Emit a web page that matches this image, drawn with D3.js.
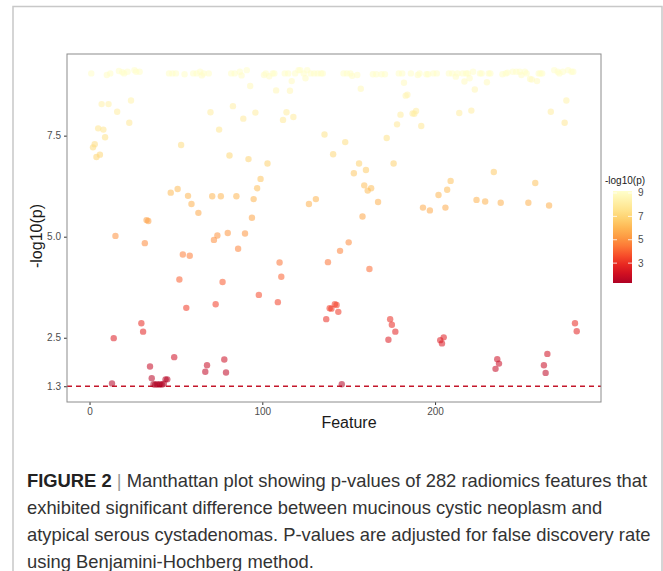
<!DOCTYPE html>
<html>
<head>
<meta charset="utf-8">
<script src="https://cdn.jsdelivr.net/npm/d3@7"></script>
<style>
  body { margin: 0; background: #fff; }
  svg { display: block; font-family: "Liberation Sans", Arial, sans-serif; }
</style>
</head>
<body>
<svg id="chart" width="663" height="571"></svg>
<script>
// feature index (x) and -log10(p) (y)
const features = [
  1, 2, 3, 4, 5, 6, 7, 8, 9, 10, 11, 12, 13, 14, 15, 16, 17, 19, 20, 22,
  23, 24, 26, 27, 29, 30, 31, 32, 33, 34, 35, 36, 37, 38, 39, 40, 41, 42, 43, 44,
  45, 46, 47, 48, 49, 50, 51, 52, 53, 54, 55, 56, 57, 58, 59, 60, 62, 63, 64, 65,
  66, 67, 68, 69, 70, 71, 72, 73, 74, 75, 76, 77, 78, 79, 80, 81, 82, 83, 84, 85,
  86, 87, 88, 89, 90, 91, 92, 93, 94, 95, 96, 97, 98, 99, 101, 102, 103, 104, 106, 107,
  108, 109, 110, 111, 112, 113, 114, 115, 116, 117, 118, 119, 121, 122, 124, 125, 126, 127, 128, 130,
  131, 132, 134, 135, 136, 137, 138, 139, 140, 141, 142, 143, 144, 145, 146, 147, 148, 149, 150, 151,
  152, 153, 155, 156, 157, 158, 159, 160, 161, 162, 163, 164, 166, 167, 169, 171, 172, 173, 174, 175,
  176, 177, 178, 179, 180, 181, 182, 183, 184, 186, 187, 188, 189, 190, 191, 192, 193, 195, 196, 197,
  199, 201, 202, 203, 204, 205, 206, 207, 208, 209, 210, 212, 213, 214, 216, 217, 218, 219, 220, 221,
  222, 223, 224, 226, 227, 229, 230, 231, 232, 234, 235, 236, 237, 238, 239, 241, 242, 245, 247, 249,
  250, 252, 253, 254, 255, 256, 258, 259, 260, 261, 262, 263, 264, 265, 266, 267, 269, 271, 272, 274,
  275, 276, 277, 279, 280, 281, 282
];
const logp = [
  9.04, 7.21, 7.29, 6.97, 7.68, 7.03, 8.28, 7.65, 7.46, 9.0, 8.28, 9.04, 1.37, 2.49, 5.02, 8.09, 9.1, 9.07, 9.04, 9.08,
  7.82, 8.37, 9.12, 9.08, 9.08, 2.86, 2.65, 4.84, 5.41, 5.39, 1.79, 1.5, 1.35, 1.34, 1.35, 1.34, 1.35, 1.34, 1.36, 1.47,
  1.47, 9.04, 6.09, 9.04, 2.02, 9.04, 6.18, 3.94, 7.27, 4.56, 9.02, 3.24, 6.01, 4.53, 5.81, 9.04, 9.04, 5.59, 9.08, 8.99,
  9.04, 1.66, 1.82, 9.04, 8.08, 6.0, 4.92, 3.33, 5.03, 7.65, 6.0, 3.88, 1.96, 1.64, 5.09, 7.01, 9.04, 8.23, 9.04, 6.0,
  4.7, 9.08, 8.99, 7.92, 5.08, 9.12, 6.92, 8.73, 5.47, 5.93, 8.07, 6.2, 3.56, 6.43, 9.0, 9.04, 6.81, 8.97, 9.04, 9.04,
  8.62, 3.38, 4.36, 4.01, 7.89, 9.04, 8.08, 9.04, 8.61, 8.85, 7.96, 9.04, 9.12, 9.12, 9.04, 8.92, 9.12, 5.81, 9.04, 9.04,
  5.93, 9.04, 9.04, 9.04, 7.53, 2.96, 4.37, 3.23, 3.22, 7.04, 3.33, 3.31, 3.14, 4.65, 1.35, 9.04, 7.34, 9.04, 4.86, 9.04,
  8.98, 6.57, 9.0, 6.81, 8.66, 5.5, 6.27, 6.65, 6.14, 4.2, 6.2, 9.02, 9.02, 5.86, 9.02, 9.02, 7.44, 2.45, 2.96, 2.82,
  6.81, 2.65, 7.78, 9.04, 8.02, 9.04, 8.81, 8.49, 8.51, 9.04, 8.05, 8.04, 8.11, 9.0, 9.04, 7.74, 5.72, 9.02, 9.02, 5.65,
  9.04, 9.04, 6.03, 2.44, 2.36, 2.51, 5.72, 6.16, 9.04, 6.38, 9.04, 8.96, 9.04, 8.06, 9.04, 8.84, 9.04, 9.04, 8.92, 8.12,
  9.08, 8.64, 5.91, 9.04, 9.04, 5.87, 8.82, 9.04, 9.04, 6.6, 1.73, 1.97, 1.86, 5.84, 9.02, 9.04, 9.06, 9.08, 9.08, 9.08,
  9.0, 9.08, 9.04, 5.84, 8.9, 8.89, 6.33, 8.85, 9.04, 9.04, 9.04, 1.82, 1.63, 2.1, 5.77, 8.09, 9.12, 9.08, 9.04, 9.08,
  7.82, 8.37, 9.12, 9.08, 9.08, 2.86, 2.66
];
const xTicks = [0, 100, 200];
const yTicks = [1.3, 2.5, 5.0, 7.5];
const legendTicks = [3, 5, 7, 9];
const threshold = 1.3;
const captionLines = [
  "Manthattan plot showing p-values of 282 radiomics features that",
  "exhibited significant difference between mucinous cystic neoplasm and",
  "atypical serous cystadenomas. P-values are adjusted for false discovery rate",
  "using Benjamini-Hochberg method."
];

const svg = d3.select("#chart");
const panel = { left: 67, right: 601, top: 54, bottom: 402 };

// outer figure frame
svg.append("path")
  .attr("d", "M13,571 V6.5 H662 V571")
  .attr("fill", "none")
  .attr("stroke", "#c8c8c8")
  .attr("stroke-width", 1.5);

const x = d3.scaleLinear().domain([-13.05, 296.05]).range([panel.left, panel.right]);
const y = d3.scaleLinear().domain([0.91, 9.52]).range([panel.bottom, panel.top]);

const vMin = 1.3, vMax = 9.17;
const color = v => d3.interpolateYlOrRd(0.9 * (vMax - v) / (vMax - vMin));

// axes
const xAxis = svg.append("g")
  .attr("transform", `translate(0,${panel.bottom})`)
  .call(d3.axisBottom(x).tickValues(xTicks).tickSize(3).tickPadding(3));
const yAxis = svg.append("g")
  .attr("transform", `translate(${panel.left},0)`)
  .call(d3.axisLeft(y).tickValues(yTicks).tickSize(3).tickPadding(3)
    .tickFormat(d => d.toFixed(1)));
[xAxis, yAxis].forEach(g => {
  g.select(".domain").remove();
  g.selectAll(".tick line").attr("stroke", "#333");
  g.selectAll(".tick text").attr("fill", "#4d4d4d").style("font-size", "10px");
});

// threshold line
svg.append("line")
  .attr("x1", panel.left).attr("x2", panel.right)
  .attr("y1", y(threshold)).attr("y2", y(threshold))
  .attr("stroke", "#c4162a")
  .attr("stroke-width", 1.3)
  .attr("stroke-dasharray", "5,4");

// points
svg.append("g").selectAll("circle")
  .data(features.map((f, i) => [f, logp[i]]))
  .join("circle")
  .attr("cx", d => x(d[0]))
  .attr("cy", d => y(d[1]))
  .attr("r", 3.2)
  .attr("fill", d => color(d[1]))
  .attr("fill-opacity", 0.55);

// panel border
svg.append("rect")
  .attr("x", panel.left).attr("y", panel.top)
  .attr("width", panel.right - panel.left)
  .attr("height", panel.bottom - panel.top)
  .attr("fill", "none")
  .attr("stroke", "#8c8c8c")
  .attr("stroke-width", 1);

// axis titles
svg.append("text")
  .attr("x", 349).attr("y", 428)
  .attr("text-anchor", "middle")
  .style("font-size", "16px")
  .attr("fill", "#1a1a1a")
  .text("Feature");
svg.append("text")
  .attr("transform", "translate(42,236) rotate(-90)")
  .attr("text-anchor", "middle")
  .style("font-size", "16px")
  .attr("fill", "#1a1a1a")
  .text("-log10(p)");

// legend
const legY = d3.scaleLinear().domain([vMin, vMax]).range([283, 191]);
const defs = svg.append("defs");
const grad = defs.append("linearGradient")
  .attr("id", "cbar").attr("x1", 0).attr("y1", 1).attr("x2", 0).attr("y2", 0);
d3.range(0, 1.0001, 0.1).forEach(t => {
  grad.append("stop")
    .attr("offset", t)
    .attr("stop-color", color(vMin + t * (vMax - vMin)));
});
svg.append("text")
  .attr("x", 605).attr("y", 184)
  .style("font-size", "10px")
  .attr("fill", "#1a1a1a")
  .text("-log10(p)");
svg.append("rect")
  .attr("x", 613).attr("y", 191)
  .attr("width", 19).attr("height", 92)
  .attr("fill", "url(#cbar)");
const leg = svg.append("g").selectAll("g")
  .data(legendTicks)
  .join("g")
  .attr("transform", d => `translate(0,${legY(d)})`);
leg.append("line").attr("x1", 613).attr("x2", 617).attr("stroke", "#fff").attr("stroke-opacity", 0.8);
leg.append("line").attr("x1", 628).attr("x2", 632).attr("stroke", "#fff").attr("stroke-opacity", 0.8);
leg.append("text")
  .attr("x", 638).attr("dy", "0.35em")
  .style("font-size", "10px")
  .attr("fill", "#4d4d4d")
  .text(d => d);

// caption
const cap = svg.append("g").style("font-size", "17px").attr("fill", "#333");
const first = cap.append("text").attr("x", 27).attr("y", 487);
first.append("tspan").style("font-weight", "bold").attr("fill", "#222").text("FIGURE 2");
first.append("tspan").attr("fill", "#999").text(" | ");
first.append("tspan").text(captionLines[0]);
captionLines.slice(1).forEach((line, i) => {
  cap.append("text").attr("x", 27).attr("y", 487 + 27 * (i + 1)).text(line);
});
// fit the first line to the width seen in the figure
const w = first.node().getComputedTextLength();
cap.style("font-size", (17 * 621 / w).toFixed(2) + "px");
</script>
</body>
</html>
